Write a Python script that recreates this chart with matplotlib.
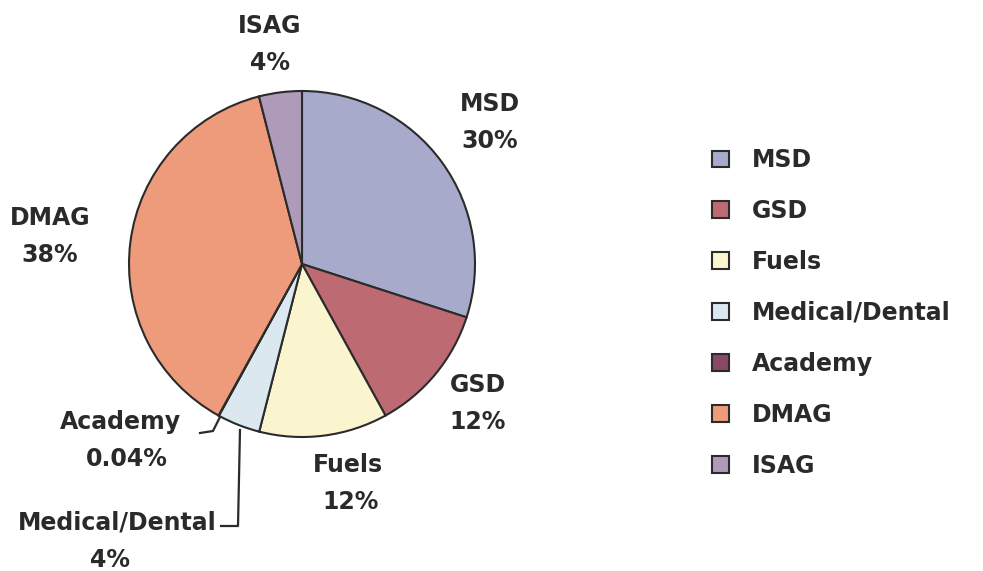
import matplotlib
matplotlib.use("Agg")
import matplotlib.pyplot as plt

categories = ["MSD", "GSD", "Fuels", "Medical/Dental", "Academy", "DMAG", "ISAG"]
values = [30, 12, 12, 4, 0.04, 38, 4]
pct_labels = ["30%", "12%", "12%", "4%", "0.04%", "38%", "4%"]
colors = ["#A8AACB", "#BE6A72", "#FBF5CF", "#DCE8F0", "#8A4866", "#EE9B7B", "#AE9BBA"]

W, H = 983, 571
fig = plt.figure(figsize=(W / 100, H / 100), dpi=100)
ax = fig.add_axes([0, 0, 1, 1])

def P(x, y):
    return (x, H - y)

FAM = ["DejaVu Sans"]
font = dict(family=FAM, fontweight="bold", color="#2a2a2a")
FS = 17

wedges, _ = ax.pie(values, colors=colors, startangle=90, counterclock=False,
                   center=P(302, 264), radius=173, frame=True,
                   wedgeprops=dict(edgecolor="#2b2b2b", linewidth=1.5))
ax.set_xlim(0, W)
ax.set_ylim(0, H)
ax.set_aspect("equal")
ax.axis("off")

label_pos = {
    "MSD": (490, 104),
    "GSD": (478, 385),
    "Fuels": (348, 465),
    "Medical/Dental": (117, 523),
    "Academy": (120, 422),
    "DMAG": (50, 218),
    "ISAG": (270, 26),
}
for cat, pct in zip(categories, pct_labels):
    x, y = label_pos[cat]
    ax.text(*P(x, y), cat, ha="center", va="center", fontsize=FS, **font)
    dx = 3 if cat == "Fuels" else (-7 if cat == "Medical/Dental" else (7 if cat == "Academy" else 0))
    ax.text(*P(x + dx, y + 37), pct, ha="center", va="center", fontsize=FS, **font)

# leader lines
ax.plot(*zip(P(200, 433), P(213, 431), P(220, 417)), color="#2b2b2b", lw=1.6)
ax.plot(*zip(P(221, 526), P(238, 526), P(240, 430)), color="#2b2b2b", lw=1.6)

leg = ax.legend(wedges, categories, loc="upper left", bbox_to_anchor=(691 / W, 1 - 127 / H),
                frameon=False, handlelength=0.72, handleheight=0.72,
                handletextpad=0.95, labelspacing=1.14,
                prop=dict(family=FAM, weight="bold", size=FS))
for t in leg.get_texts():
    t.set_color("#2a2a2a")

fig.savefig("out.png", dpi=100, facecolor="white")
